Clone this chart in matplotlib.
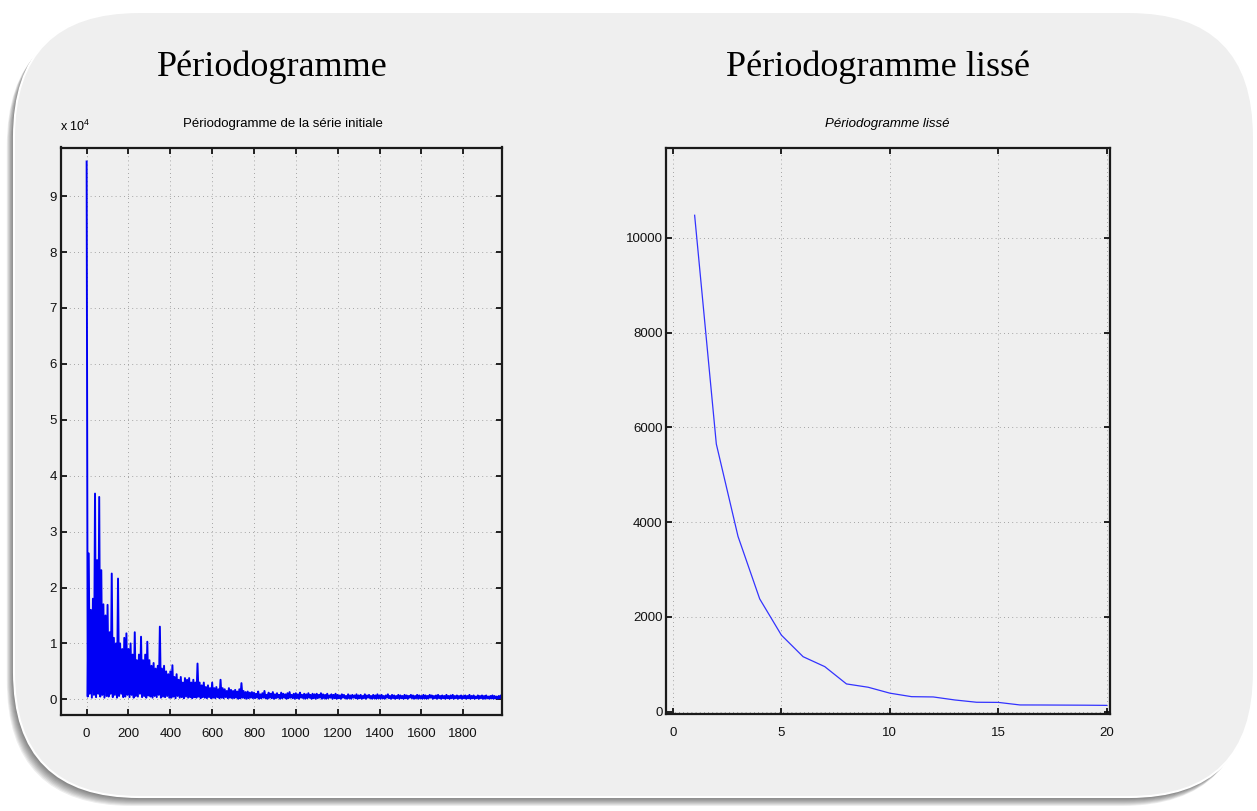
import numpy as np
import matplotlib.pyplot as plt
from matplotlib.patches import FancyBboxPatch

plt.rcParams['font.family'] = ['Liberation Sans', 'DejaVu Sans']
plt.rcParams['mathtext.default'] = 'regular'

W, H = 1257, 811

# raw periodogram of the series (x 10^4), one value every 5 frequency units
pgram_head = [
    9.62, 0.05, 2.61, 0.1, 1.6, 0.03, 1.8, 0.08, 3.68, 0.04, 2.49, 0.1, 3.62, 0.05, 2.31, 0.08, 1.7, 0.03, 1.5, 0.06,
    1.69, 0.05, 1.2, 0.1, 2.25, 0.04, 1.1, 0.08, 1.0, 0.03, 2.16, 0.06, 1.0, 0.1, 0.9, 0.04, 1.1, 0.05, 1.18, 0.08,
    0.9, 0.04, 1.0, 0.08, 0.8, 0.03, 1.2, 0.06, 0.7, 0.05, 0.8, 0.1, 1.12, 0.04, 0.7, 0.06, 0.8, 0.03, 1.03, 0.07,
    0.7, 0.05, 0.6, 0.03, 0.65, 0.06, 0.55, 0.04, 0.6, 0.08, 1.30, 0.03, 0.55, 0.05, 0.6, 0.04, 0.5, 0.06, 0.45, 0.03,
    0.5, 0.03, 0.61, 0.05, 0.4, 0.02, 0.45, 0.06, 0.35, 0.03, 0.4, 0.04, 0.3, 0.02, 0.38, 0.05, 0.35, 0.03, 0.38, 0.04,
    0.3, 0.02, 0.35, 0.04, 0.3, 0.03, 0.64, 0.05, 0.3, 0.02, 0.25, 0.04, 0.3, 0.03, 0.22, 0.02, 0.25, 0.04, 0.2, 0.02,
    0.3, 0.03, 0.2, 0.02, 0.22, 0.04, 0.18, 0.02, 0.35, 0.03, 0.2, 0.02, 0.18, 0.04, 0.15, 0.02, 0.2, 0.03, 0.17, 0.02,
    0.15, 0.02, 0.17, 0.03, 0.14, 0.01, 0.18, 0.02, 0.29, 0.03, 0.15, 0.02, 0.13, 0.01, 0.14, 0.02, 0.12, 0.03, 0.13, 0.02,
]
pgram_tail = [
    0.12, 0.02, 0.1, 0.03, 0.14, 0.01, 0.09, 0.02, 0.11, 0.03, 0.15, 0.02, 0.08, 0.01, 0.12, 0.03, 0.1, 0.02, 0.13, 0.01,
    0.09, 0.02, 0.11, 0.03, 0.08, 0.01, 0.12, 0.02, 0.1, 0.03, 0.09, 0.01, 0.11, 0.02, 0.13, 0.03, 0.08, 0.02, 0.1, 0.01,
    0.11, 0.02, 0.09, 0.01, 0.12, 0.03, 0.08, 0.02, 0.1, 0.01, 0.09, 0.02, 0.11, 0.03, 0.08, 0.01, 0.1, 0.02, 0.09, 0.01,
    0.1, 0.02, 0.08, 0.03, 0.11, 0.01, 0.09, 0.02, 0.08, 0.01, 0.1, 0.02, 0.07, 0.03, 0.09, 0.01, 0.08, 0.02, 0.1, 0.01,
    0.08, 0.02, 0.07, 0.01, 0.09, 0.03, 0.08, 0.02, 0.06, 0.01, 0.09, 0.02, 0.07, 0.01, 0.08, 0.03, 0.07, 0.02, 0.09, 0.01,
    0.07, 0.02, 0.08, 0.01, 0.06, 0.02, 0.09, 0.01, 0.07, 0.03, 0.08, 0.02, 0.06, 0.01, 0.08, 0.02, 0.07, 0.01, 0.09, 0.02,
    0.07, 0.01, 0.08, 0.02, 0.06, 0.01, 0.07, 0.03, 0.09, 0.02, 0.06, 0.01, 0.08, 0.02, 0.07, 0.01, 0.06, 0.02, 0.08, 0.01,
    0.07, 0.02, 0.06, 0.01, 0.08, 0.02, 0.07, 0.01, 0.06, 0.03, 0.08, 0.02, 0.07, 0.01, 0.06, 0.02, 0.08, 0.01, 0.07, 0.02,
    0.06, 0.01, 0.08, 0.02, 0.07, 0.01, 0.06, 0.02, 0.08, 0.03, 0.07, 0.01, 0.06, 0.02, 0.07, 0.01, 0.08, 0.02, 0.06, 0.01,
    0.07, 0.02, 0.06, 0.01, 0.08, 0.02, 0.06, 0.01, 0.07, 0.02, 0.08, 0.01, 0.06, 0.02, 0.07, 0.01, 0.06, 0.02, 0.07, 0.01,
    0.06, 0.02, 0.07, 0.01, 0.06, 0.02, 0.08, 0.01, 0.06, 0.02, 0.07, 0.01, 0.05, 0.02, 0.07, 0.01, 0.06, 0.02, 0.07, 0.01,
    0.06, 0.01, 0.07, 0.02, 0.05, 0.01, 0.06, 0.02, 0.07, 0.01, 0.06, 0.02, 0.05, 0.01, 0.06, 0.02, 0.07, 0.01, 0.06, 0.02,
]
freq = np.arange(0, 2000, 5)
pgram = np.array(pgram_head + pgram_tail)

# smoothed periodogram
lag = list(range(1, 21))
smooth = [10480, 5650, 3700, 2380, 1615, 1160, 950, 585, 515, 390,
          316, 310, 246, 198, 195, 141, 140, 138, 136, 132]

xticks_raw = [0, 200, 400, 600, 800, 1000, 1200, 1400, 1600, 1800]
yticks_raw = [0, 1, 2, 3, 4, 5, 6, 7, 8, 9]
xticks_smooth = [0, 5, 10, 15, 20]
yticks_smooth = [0, 2000, 4000, 6000, 8000, 10000]

fig = plt.figure(figsize=(W / 100, H / 100), dpi=100)
fig.patch.set_facecolor('white')

# background card, in pixel coordinates
bg = fig.add_axes([0, 0, 1, 1])
bg.set_xlim(0, W)
bg.set_ylim(H, 0)
bg.axis('off')
card = dict(boxstyle='round,pad=0,rounding_size=125')
for d in range(1, 10):
    bg.add_patch(FancyBboxPatch((14 - d * 0.8, 12 + d), 1240, 785, fc='black', ec='none',
                                alpha=0.07, **card))
bg.add_patch(FancyBboxPatch((14, 12), 1240, 785, fc='#efefef', ec='white', lw=1.5, **card))

bg.text(272, 76, 'Périodogramme', family='Liberation Serif', fontsize=26,
        ha='center', va='baseline')
bg.text(878, 76, 'Périodogramme lissé', family='Liberation Serif', fontsize=26,
        ha='center', va='baseline')
bg.text(283, 124, 'Périodogramme de la série initiale', fontsize=9.5,
        ha='center', va='center')
bg.text(887, 124, 'Périodogramme lissé', fontsize=9.5, style='italic',
        ha='center', va='center')
bg.text(60, 131, r'x 10$^{4}$', fontsize=9, va='baseline')


def style(ax):
    ax.set_facecolor('none')
    ax.grid(True, color='#8c8c8c', lw=0.6, ls=(0, (1, 4)))
    ax.tick_params(direction='in', length=4, width=1.3, top=True, right=True,
                   labelsize=9.5, colors='#111111')
    ax.tick_params(axis='x', pad=9.5)
    ax.tick_params(axis='y', pad=2.5)
    for s in ax.spines.values():
        s.set_linewidth(1.6)
        s.set_color('#1a1a1a')


ax1 = fig.add_axes([60.5 / W, 1 - 715 / H, 442 / W, 567.5 / H])
ax1.plot(freq, pgram, color='#0000f5', lw=1.4)
ax1.set_xlim(-125, 1988)
ax1.set_ylim(-0.28, 9.87)
ax1.set_xticks(xticks_raw)
ax1.set_yticks(yticks_raw)
style(ax1)

ax2 = fig.add_axes([666 / W, 1 - 714 / H, 444 / W, 566 / H])
ax2.plot(lag, smooth, color='#3333ff', lw=0.9)
ax2.set_xlim(-0.32, 20.15)
ax2.set_ylim(-50, 11900)
ax2.set_xticks(xticks_smooth)
ax2.set_yticks(yticks_smooth)
style(ax2)

fig.savefig('out.png', dpi=100, facecolor='white')
